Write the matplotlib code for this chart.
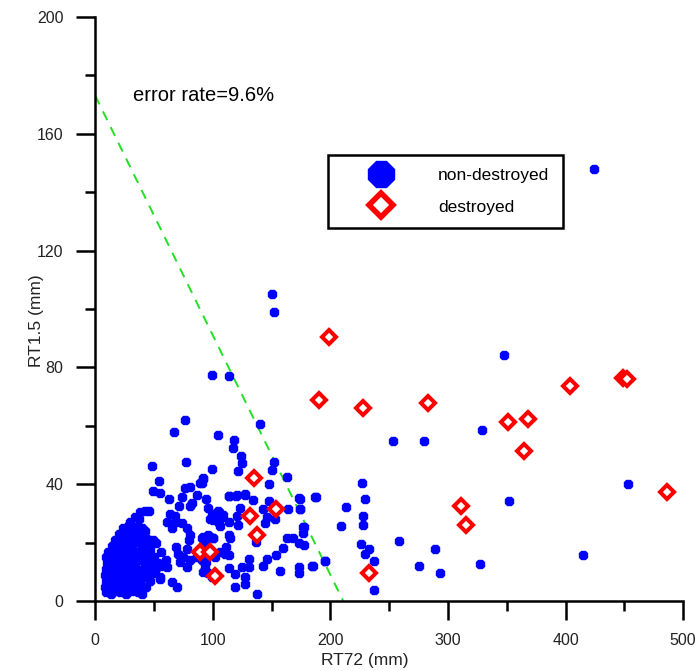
import matplotlib
matplotlib.use("Agg")
import matplotlib.pyplot as plt
from matplotlib.lines import Line2D
from matplotlib.ticker import MultipleLocator

plt.rcParams['font.family'] = ['Liberation Sans', 'DejaVu Sans']

# destroyed samples (red diamonds)
dest_x = [199, 190, 228, 283, 351, 368, 365, 404, 449, 452, 486, 311, 315, 233,
          135, 154, 132, 138, 89, 98, 102]
dest_y = [90.5, 69, 66, 68, 61.5, 62.5, 51.5, 73.5, 76.5, 76, 37.5, 32.5, 26, 9.5,
          42, 31.5, 29, 22.5, 17, 17, 8.5]

# non-destroyed samples: dense cluster near origin
clu_x = [9, 13, 17, 21, 26, 31, 36,
         8, 11, 15, 19, 23, 28, 33, 38, 43,
         9, 12, 16, 20, 24, 29, 34, 40, 47, 55,
         8, 11, 14, 18, 22, 27, 32, 37, 44, 51,
         9, 13, 17, 21, 25, 30, 35, 42, 48, 57,
         10, 14, 18, 23, 28, 33, 39, 46, 53, 60,
         9, 12, 16, 20, 26, 31, 37, 43, 50,
         11, 15, 19, 24, 29, 35, 41, 47, 56,
         14, 18, 22, 27, 33, 39, 45, 52,
         17, 21, 26, 31, 37, 43, 49,
         20, 25, 30, 36, 42,
         24, 29, 35, 40,
         30, 37]
clu_y = [3, 2.5, 3.5, 3, 2.5, 3.5, 3,
         5, 5.5, 5, 6, 5, 5.5, 5, 6, 5,
         7, 7.5, 7, 8, 7, 7.5, 7, 8, 7, 7.5,
         9, 10, 9, 9.5, 10, 9, 9.5, 10, 9, 9.5,
         11, 12, 11, 11.5, 12, 11, 11.5, 12, 11, 12,
         13, 14, 13.5, 13, 14, 13, 14, 13.5, 13, 14,
         15, 16, 15.5, 15, 16, 15.5, 15, 16, 15,
         17, 18, 17, 17.5, 18, 17, 18, 17.5, 17,
         19, 20, 19.5, 19, 20, 19.5, 19, 20,
         21, 22, 21.5, 21, 22, 21.5, 21,
         23, 24, 23.5, 23, 24,
         25, 26, 25.5, 25,
         27, 28]

# non-destroyed samples: scattered points
sc_x = [150, 152, 99, 114, 76.5, 140.5, 67, 104, 118, 117, 124, 125, 121, 48,
        77, 99.5, 54, 49, 55, 63, 74, 81, 76.5, 89, 91.5, 86.5, 94.5, 71, 81, 82,
        95.5, 99, 64, 68, 69, 34, 38, 42.5, 46, 61, 65, 74, 78, 81, 80, 78, 69, 70,
        90.5, 93.5, 96, 100, 105, 106, 105, 86.5, 90.5, 93.5, 96, 99, 81, 78, 75, 72,
        65, 69.5, 55, 40, 61, 56.5, 52.5, 49.5, 45, 41,
        152, 150, 163, 148, 173, 187.5, 127.5, 120, 114, 134.5, 147.5, 143, 164, 174,
        123, 104, 109, 98, 108, 100.5, 120.5, 146, 153, 144.5, 114, 121, 106, 177.5,
        177, 163, 168.5, 173, 177.5, 137, 160, 154, 146, 143, 131, 131, 157, 173.5,
        173.5, 185, 195, 125, 127.5, 127.5, 119, 137.5, 113.5, 118.5, 111.5, 110, 113.5,
        106, 102, 95, 94.5, 92, 98, 100.5, 92, 113.5, 115, 92, 91, 114, 120.5, 127.5,
        424, 348, 329, 253, 280, 453, 352, 227, 229, 213, 187, 228, 228, 209, 258,
        289, 226, 233, 229.5, 237, 195.5, 184.5, 275, 293.5, 327.5, 415, 237, 176.5,
        174, 174]
sc_y = [105, 99, 77.5, 77, 62, 60.5, 58, 57, 55, 52.5, 49.7, 47.4, 44.5, 46.2,
        47.6, 45.4, 41, 37.8, 37, 35, 35.7, 39, 38.6, 40.5, 41.7, 36.5, 35, 32.5, 32.5,
        33.5, 32, 29.7, 30, 29, 27, 28.7, 30.6, 31, 31, 27.2, 25, 26.6, 25, 22.6, 21, 18,
        18.6, 16.3, 21.5, 19.8, 22.6, 21.8, 30.6, 29, 26.6, 15.2, 14, 11.7, 9.5, 8.3,
        14, 11.7, 15.2, 13.3, 6.6, 5, 8.3, 2.6, 11.7, 12.9, 11.7, 10, 9.5, 10.6,
        47.8, 44.9, 42.5, 40.2, 35.2, 35.7, 36.6, 36, 36, 34.6, 34.3, 31.7, 31.5, 31.4,
        32, 31, 29.5, 28.3, 28.7, 27.7, 29, 28.9, 28, 26.6, 27.2, 26, 25.7, 25.4, 23.2,
        21.8, 21.5, 20, 19.2, 20.3, 18.3, 15.8, 14.6, 12.1, 14.3, 11.8, 10.4, 11.8, 9.5,
        12.1, 13.7, 11.8, 8.3, 6, 4.8, 2.4, 11.2, 9.2, 18.6, 16.3, 15.8, 16.9, 15.2, 16.3,
        13.5, 10, 22, 21.5, 22, 22.6, 21.5, 42, 40.3, 36, 36.3, 36.5,
        148, 84.2, 58.6, 54.9, 54.9, 40.2, 34.2, 40.6, 35, 32.3, 35.7, 29, 26, 25.8, 20.6,
        18, 19.5, 18, 16.3, 13.8, 13.7, 12.1, 12.1, 9.8, 12.7, 15.8, 3.8, 25.4,
        35, 31.5]

# decision boundary (green dashed)
line_x = [0, 211]
line_y = [173, 0]

fig = plt.figure(figsize=(6.95, 6.71), dpi=100)
ax = fig.add_axes([0.137, 0.104, 0.846, 0.871])

ax.plot(line_x, line_y, color='#22e022', linestyle=(0, (5, 4)), linewidth=1.4, zorder=1)
ax.plot(clu_x, clu_y, linestyle='none', marker='8', markersize=6.5,
        color='#0000ff', zorder=2)
ax.plot(sc_x, sc_y, linestyle='none', marker='8', markersize=6,
        color='#0000ff', zorder=2)
ax.plot(dest_x, dest_y, linestyle='none', marker='D', markersize=7.5,
        markerfacecolor='white', markeredgecolor='#ff0000', markeredgewidth=2.9, zorder=3)

ax.set_xlim(0, 500)
ax.set_ylim(0, 200)
ax.spines['top'].set_visible(False)
ax.spines['right'].set_visible(False)
ax.spines['left'].set_linewidth(1.8)
ax.spines['bottom'].set_linewidth(1.8)

ax.xaxis.set_major_locator(MultipleLocator(100))
ax.xaxis.set_minor_locator(MultipleLocator(50))
ax.yaxis.set_major_locator(MultipleLocator(40))
ax.yaxis.set_minor_locator(MultipleLocator(20))
ax.tick_params(which='major', direction='out', length=14, width=1.8,
               labelsize=11.5, labelcolor='#222222', pad=9)
ax.tick_params(which='minor', direction='out', length=7, width=1.8)

ax.set_xlabel('RT72 (mm)', fontsize=12.5, color='#222222')
ax.set_ylabel('RT1.5 (mm)', fontsize=12.5, color='#222222')
ax.xaxis.set_label_coords(0.459, -0.088)
ax.yaxis.set_label_coords(-0.087, 0.48)

ax.text(32, 173, 'error rate=9.6%', fontsize=14.5, va='center', ha='left')

handles = [
    Line2D([], [], linestyle='none', marker='8', markersize=20, color='#0000ff'),
    Line2D([], [], linestyle='none', marker='D', markersize=12,
           markerfacecolor='white', markeredgecolor='#ff0000', markeredgewidth=4),
]
leg = ax.legend(handles, ['non-destroyed', 'destroyed'], loc='upper left',
                bbox_to_anchor=(0.396, 0.764), fontsize=12.5, frameon=True,
                fancybox=False, edgecolor='black', handlelength=4.6,
                handletextpad=1.0, borderpad=0.75, labelspacing=0.95,
                borderaxespad=0, framealpha=1)
leg.get_frame().set_linewidth(1.8)

fig.savefig('out.png', dpi=100)
